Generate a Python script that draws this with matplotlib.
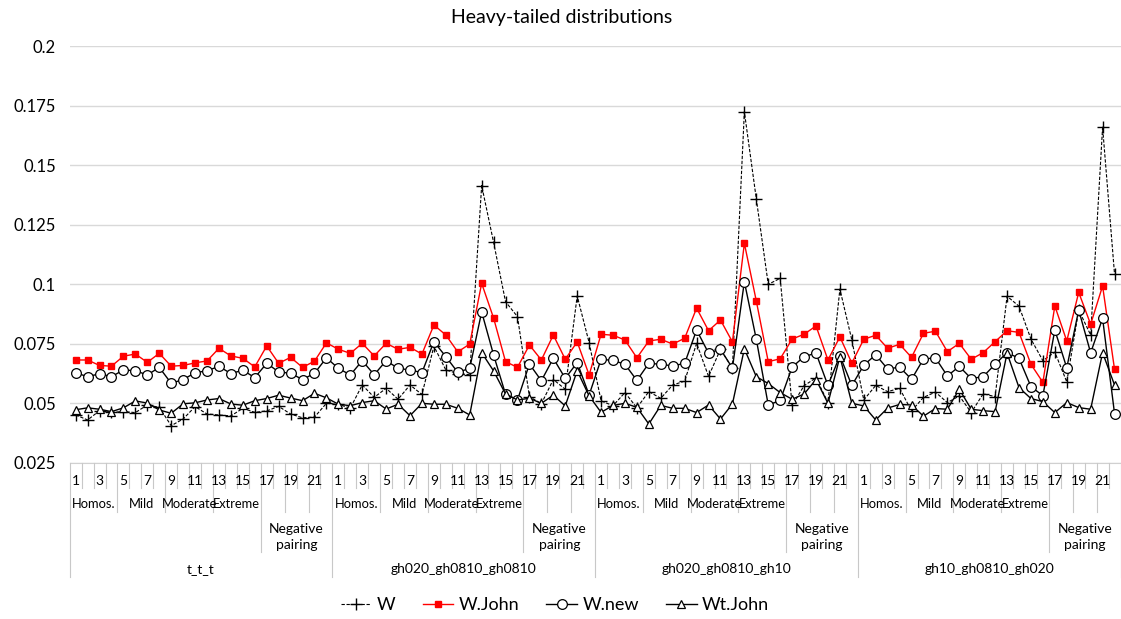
import numpy as np
import matplotlib.pyplot as plt
from matplotlib.lines import Line2D
from matplotlib.transforms import blended_transform_factory

plt.rcParams['font.family'] = ['Lato', 'DejaVu Sans']

# Datos (4 grupos x 22 escenarios)
grupos = ["t_t_t", "gh020_gh0810_gh0810", "gh020_gh0810_gh10", "gh10_gh0810_gh020"]
subgrupos = ["Homos.", "Mild", "Moderate", "Extreme", "Negative\npairing"]
inicio_sub = [0, 4, 8, 12, 16]
fin_sub = [4, 8, 12, 16, 22]
n_por_grupo = 22

w = [0.0451, 0.0430, 0.0469, 0.0462, 0.0465, 0.0461, 0.0493, 0.0483, 0.0406, 0.0434, 0.0486,
     0.0455, 0.0451, 0.0447, 0.0479, 0.0462, 0.0468, 0.0487, 0.0455, 0.0439, 0.0442, 0.0500,
     0.0495, 0.0480, 0.0577, 0.0525, 0.0563, 0.0517, 0.0577, 0.0537, 0.0740, 0.0640, 0.0625,
     0.0620, 0.1415, 0.1176, 0.0927, 0.0864, 0.0528, 0.0498, 0.0600, 0.0559, 0.0951, 0.0755,
     0.0510, 0.0490, 0.0545, 0.0481, 0.0549, 0.0521, 0.0577, 0.0593, 0.0752, 0.0613, 0.0727,
     0.0647, 0.1725, 0.1359, 0.1000, 0.1025, 0.0491, 0.0574, 0.0607, 0.0503, 0.0980, 0.0766,
     0.0514, 0.0575, 0.0549, 0.0563, 0.0468, 0.0525, 0.0547, 0.0503, 0.0531, 0.0461, 0.0540,
     0.0528, 0.0950, 0.0908, 0.0770, 0.0679, 0.0715, 0.0590, 0.0892, 0.0787, 0.1660, 0.1043]

w_john = [0.0682, 0.0682, 0.0659, 0.0656, 0.0698, 0.0707, 0.0672, 0.0710, 0.0656, 0.0659, 0.0670,
          0.0678, 0.0731, 0.0699, 0.0689, 0.0653, 0.0741, 0.0668, 0.0693, 0.0651, 0.0677, 0.0754,
          0.0727, 0.0710, 0.0752, 0.0699, 0.0752, 0.0727, 0.0735, 0.0707, 0.0829, 0.0787, 0.0716,
          0.0749, 0.1004, 0.0858, 0.0675, 0.0651, 0.0745, 0.0682, 0.0787, 0.0685, 0.0758, 0.0619,
          0.0790, 0.0786, 0.0766, 0.0691, 0.0762, 0.0769, 0.0749, 0.0773, 0.0900, 0.0805, 0.0850,
          0.0758, 0.1172, 0.0930, 0.0675, 0.0687, 0.0770, 0.0790, 0.0825, 0.0682, 0.0779, 0.0669,
          0.0769, 0.0786, 0.0731, 0.0748, 0.0693, 0.0794, 0.0803, 0.0717, 0.0752, 0.0685, 0.0713,
          0.0759, 0.0805, 0.0798, 0.0664, 0.0588, 0.0909, 0.0762, 0.0966, 0.0832, 0.0993, 0.0643]

w_new = [0.0628, 0.0612, 0.0624, 0.0612, 0.0640, 0.0637, 0.0619, 0.0651, 0.0584, 0.0600, 0.0628,
         0.0637, 0.0655, 0.0625, 0.0639, 0.0608, 0.0668, 0.0632, 0.0626, 0.0600, 0.0626, 0.0691,
         0.0647, 0.0619, 0.0679, 0.0620, 0.0679, 0.0647, 0.0640, 0.0629, 0.0759, 0.0696, 0.0630,
         0.0647, 0.0884, 0.0703, 0.0538, 0.0514, 0.0665, 0.0595, 0.0689, 0.0605, 0.0671, 0.0535,
         0.0685, 0.0680, 0.0664, 0.0596, 0.0668, 0.0664, 0.0657, 0.0668, 0.0808, 0.0711, 0.0727,
         0.0648, 0.1011, 0.0769, 0.0493, 0.0512, 0.0652, 0.0696, 0.0711, 0.0575, 0.0700, 0.0575,
         0.0660, 0.0704, 0.0644, 0.0652, 0.0601, 0.0686, 0.0691, 0.0615, 0.0655, 0.0604, 0.0612,
         0.0664, 0.0713, 0.0689, 0.0570, 0.0532, 0.0808, 0.0649, 0.0892, 0.0712, 0.0857, 0.0457]

wt_john = [0.0473, 0.0481, 0.0475, 0.0465, 0.0481, 0.0510, 0.0501, 0.0472, 0.0458, 0.0498, 0.0502,
           0.0514, 0.0520, 0.0497, 0.0492, 0.0511, 0.0520, 0.0534, 0.0522, 0.0511, 0.0542, 0.0523,
           0.0496, 0.0490, 0.0503, 0.0511, 0.0476, 0.0496, 0.0448, 0.0500, 0.0496, 0.0496, 0.0479,
           0.0451, 0.0713, 0.0636, 0.0539, 0.0514, 0.0521, 0.0500, 0.0534, 0.0489, 0.0637, 0.0531,
           0.0462, 0.0491, 0.0500, 0.0483, 0.0413, 0.0491, 0.0479, 0.0479, 0.0461, 0.0493, 0.0434,
           0.0497, 0.0729, 0.0612, 0.0583, 0.0545, 0.0517, 0.0539, 0.0600, 0.0500, 0.0696, 0.0500,
           0.0489, 0.0430, 0.0480, 0.0495, 0.0493, 0.0446, 0.0478, 0.0475, 0.0559, 0.0475, 0.0469,
           0.0465, 0.0711, 0.0566, 0.0520, 0.0507, 0.0461, 0.0503, 0.0482, 0.0475, 0.0713, 0.0577]

y_ticks = [0.025, 0.05, 0.075, 0.1, 0.125, 0.15, 0.175, 0.2]
y_labels = ["0.025", "0.05", "0.075", "0.1", "0.125", "0.15", "0.175", "0.2"]

n = len(w)
x = np.arange(n)
W_FIG, H_FIG = 1121, 619


def yf(p):
    # pixel vertical -> fraccion de figura
    return 1 - p / H_FIG


fig = plt.figure(figsize=(W_FIG / 100, H_FIG / 100), dpi=100)
ax = fig.add_axes([69.7 / W_FIG, yf(462.8), (1120.5 - 69.7) / W_FIG, (462.8 - 46.3) / H_FIG])

ax.plot(x, w, color='black', linestyle=(0, (3, 1.5)), linewidth=0.8, marker='+',
        markersize=9, markeredgewidth=1.0, label='W')
ax.plot(x, w_john, color='red', linewidth=1.0, marker='s', markersize=5, label='W.John')
ax.plot(x, w_new, color='black', linewidth=1.0, marker='o', markersize=7,
        markerfacecolor='white', markeredgewidth=0.9, label='W.new')
ax.plot(x, wt_john, color='black', linewidth=1.0, marker='^', markersize=6,
        markerfacecolor='white', markeredgewidth=0.9, label='Wt.John')

ax.set_xlim(-0.5, n - 0.5)
ax.set_ylim(0.025, 0.2)
ax.set_yticks(y_ticks)
ax.set_yticklabels(y_labels)
ax.set_xticks([])
ax.yaxis.grid(True, color='#d9d9d9', linewidth=1.0)
ax.set_axisbelow(True)
ax.tick_params(axis='y', length=0, pad=10, labelsize=12)
for lado in ['top', 'right', 'left']:
    ax.spines[lado].set_visible(False)
ax.spines['bottom'].set_color('#d0d0d0')

# Eje de categorias con varios niveles
trans = blended_transform_factory(ax.transData, fig.transFigure)
gris = '#c8c8c8'
for b in range(n + 1):
    j = b % n_por_grupo
    if j == 0:
        fondo = 576.7
    elif j == 16:
        fondo = 551.7
    elif j in (4, 8, 12, 18, 20):
        fondo = 512
    else:
        fondo = 488.3
    fig.add_artist(Line2D([b - 0.5, b - 0.5], [yf(462.8), yf(fondo)], transform=trans,
                          color=gris, linewidth=0.8, clip_on=False))

for g, nombre in enumerate(grupos):
    base = g * n_por_grupo
    for j in range(0, n_por_grupo, 2):
        fig.text(base + j, yf(481), str(j + 1), transform=trans, ha='center', va='center',
                 fontsize=10)
    for s, etiqueta in enumerate(subgrupos):
        centro = base + (inicio_sub[s] + fin_sub[s] - 1) / 2
        if "\n" in etiqueta:
            fig.text(centro, yf(537), etiqueta, transform=trans, ha='center', va='center',
                     fontsize=10, linespacing=1.35)
        else:
            fig.text(centro, yf(504), etiqueta, transform=trans, ha='center', va='center',
                     fontsize=9.3)
    fig.text(base + (n_por_grupo - 1) / 2, yf(569), nombre, transform=trans, ha='center',
             va='center', fontsize=10)

fig.text(562 / W_FIG, yf(18), "Heavy-tailed distributions", ha='center', va='center',
         fontsize=14)
fig.legend(loc='center', bbox_to_anchor=(555 / W_FIG, yf(605)), ncol=4, frameon=False,
           fontsize=13, handlelength=1.7, columnspacing=1.5, handletextpad=0.3)

plt.savefig("out.png", dpi=100)
